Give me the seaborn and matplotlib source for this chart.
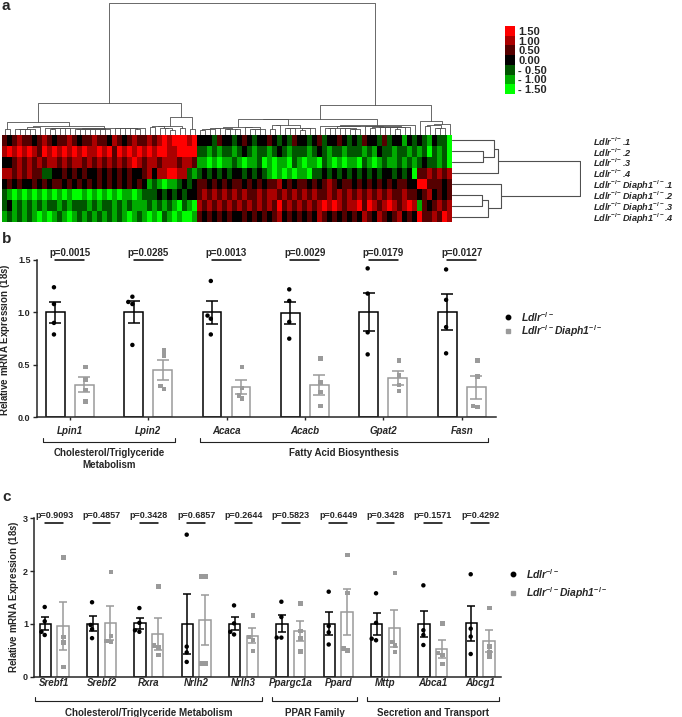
import numpy as np
import pandas as pd
import matplotlib
matplotlib.use("Agg")
import matplotlib.pyplot as plt
from matplotlib.colors import LinearSegmentedColormap
from matplotlib.lines import Line2D
from matplotlib.transforms import blended_transform_factory
import seaborn as sns

# ---------------- panel a: clustered heatmap ----------------
HM_ROWS = ["Ldlr$^{-/-}$.1", "Ldlr$^{-/-}$.2", "Ldlr$^{-/-}$.3", "Ldlr$^{-/-}$.4",
           "Ldlr$^{-/-}$Diaph1$^{-/-}$.1", "Ldlr$^{-/-}$Diaph1$^{-/-}$.2",
           "Ldlr$^{-/-}$Diaph1$^{-/-}$.3", "Ldlr$^{-/-}$Diaph1$^{-/-}$.4"]
# one digit per gene column: 0 = -1.5, 3 = 0.0, 6 = +1.5
HM_CODES = [
    "4345443454 3445434454 4354345445 4565666563 3324332343 2334323243 3234233432 3243324233 1323213220",
    "5656565465 6565656556 5646565656 5665566662 2121221232 1221232122 2123212212 2212132212 2121202120",
    "3345454545 5454554545 4545456545 5455545541 1010112101 1201011021 0110210101 1021012112 1212322120",
    "5545454422 3343434334 3434343345 3556655212 3232323323 2321010101 1022323232 3232323323 2304454545",
    "3434334343 4434343434 3434343431 2101123234 4343434434 3434453434 4343454344 3434343434 4336644434",
    "2101010101 0101001010 1010110122 2323232334 5454545454 4545545454 5454454545 4545454544 5443453434",
    "2312121212 2121222121 2212121112 1212102105 4545454545 4545464545 4545656545 5646545654 5651434545",
    "1212121010 1210121212 1212101210 1021010014 3434343343 4343453434 3435434343 4354354345 3436445465",
]
LEGEND_VALUES = [1.5, 1.0, 0.5, 0.0, -0.5, -1.0, -1.5]
LEGEND_LABELS = ["1.50", "1.00", "0.50", "0.00", "- 0.50", "- 1.00", "- 1.50"]

# ---------------- panels b and c: qPCR ----------------
GENO = ["Ldlr-/-", "Ldlr-/-Diaph1-/-"]
GENO_LABELS = ["Ldlr$^{-/-}$", "Ldlr$^{-/-}$Diaph1$^{-/-}$"]
Y_LABEL = r"$\mathbf{Relative\ mRNA\ Expression\ (}\mathit{18s}\mathbf{)}$"

B_GENES = ["Lpin1", "Lpin2", "Acaca", "Acacb", "Gpat2", "Fasn"]
B_CTRL = [[1.24, 1.08, 0.90, 0.79], [1.15, 1.10, 1.08, 0.69], [1.30, 0.97, 0.94, 0.79],
          [1.22, 1.11, 0.91, 0.75], [1.42, 1.18, 0.81, 0.60], [1.41, 1.12, 0.86, 0.61]]
B_KO = [[0.48, 0.36, 0.26, 0.15], [0.635, 0.59, 0.30, 0.27], [0.48, 0.28, 0.21, 0.18],
        [0.56, 0.33, 0.24, 0.11], [0.54, 0.40, 0.31, 0.25], [0.54, 0.39, 0.11, 0.10]]
B_P = ["p=0.0015", "p=0.0285", "p=0.0013", "p=0.0029", "p=0.0179", "p=0.0127"]
B_GROUPS = [("Cholesterol/Triglyceride\nMetabolism", 0, 1), ("Fatty Acid Biosynthesis", 2, 5)]

C_GENES = ["Srebf1", "Srebf2", "Rxra", "Nrlh2", "Nrlh3", "Ppargc1a", "Ppard", "Mttp", "Abca1", "Abcg1"]
C_CTRL = [[1.32, 1.05, 0.85, 0.79], [1.41, 0.98, 0.90, 0.73], [1.30, 1.02, 0.88, 0.85],
          [2.69, 0.57, 0.46, 0.28], [1.35, 1.01, 0.85, 0.80], [1.42, 1.13, 0.74, 0.74],
          [1.61, 0.96, 0.84, 0.61], [1.58, 1.02, 0.69, 0.72], [1.73, 0.88, 0.79, 0.60],
          [1.94, 0.91, 0.76, 0.43]]
C_KO = [[2.26, 0.75, 0.65, 0.18], [1.98, 0.77, 0.68, 0.66], [1.71, 0.59, 0.55, 0.41],
        [1.90, 1.90, 0.25, 0.25], [1.16, 0.75, 0.70, 0.49], [1.39, 0.87, 0.72, 0.48],
        [2.30, 1.59, 0.53, 0.50], [1.96, 0.66, 0.59, 0.47], [1.01, 0.45, 0.41, 0.24],
        [1.30, 0.57, 0.46, 0.37]]
C_P = ["p=0.9093", "p=0.4857", "p=0.3428", "p=0.6857", "p=0.2644",
       "p=0.5823", "p=0.6449", "p=0.3428", "p=0.1571", "p=0.4292"]
C_GROUPS = [("Cholesterol/Triglyceride Metabolism", 0, 4), ("PPAR Family", 5, 6),
            ("Secretion and Transport", 7, 9)]

COLORS = ["black", "#9a9a9a"]
MARKERS = ["o", "s"]
W, H = 682, 717

sns.set_style("ticks")
plt.rcParams["font.family"] = ["Liberation Sans", "DejaVu Sans"]
plt.rcParams["font.weight"] = "bold"
plt.rcParams["mathtext.fontset"] = "custom"
plt.rcParams["mathtext.rm"] = "Liberation Sans:bold"
plt.rcParams["mathtext.bf"] = "Liberation Sans:bold"
plt.rcParams["mathtext.it"] = "Liberation Sans:italic:bold"
plt.rcParams["mathtext.default"] = "it"


def px_axes(fig, x0, y0, x1, y1):
    return fig.add_axes([x0 / W, 1 - y1 / H, (x1 - x0) / W, (y1 - y0) / H])


def adjacent_ward(vectors):
    # ward merging between neighbours only, so the leaf order stays as drawn
    nodes = [{"c": v.astype(float), "n": 1, "h": 0.0, "pos": i + 0.5} for i, v in enumerate(vectors)]
    links = []
    while len(nodes) > 1:
        costs = [a["n"] * b["n"] / (a["n"] + b["n"]) * np.sum((a["c"] - b["c"]) ** 2)
                 for a, b in zip(nodes[:-1], nodes[1:])]
        k = int(np.argmin(costs))
        a, b = nodes[k], nodes[k + 1]
        h = max(np.sqrt(2 * costs[k]), a["h"], b["h"])
        links.append((a["pos"], a["h"], b["pos"], b["h"], h))
        n = a["n"] + b["n"]
        nodes[k:k + 2] = [{"c": (a["c"] * a["n"] + b["c"] * b["n"]) / n, "n": n, "h": h,
                           "pos": (a["pos"] + b["pos"]) / 2}]
    return links, nodes[0]["h"]


def expr_frame(genes, ctrl, ko):
    rows = []
    for g, a, b in zip(genes, ctrl, ko):
        rows += [(g, GENO[0], v) for v in a]
        rows += [(g, GENO[1], v) for v in b]
    return pd.DataFrame(rows, columns=["gene", "genotype", "expr"])


def bar_panel(ax, genes, ctrl, ko, pvals, groups, ymax, yticks, yfmt, p_y, p_size, cap,
              pad, tick_len, tick_pad, bracket_y, rise, text_y):
    df = expr_frame(genes, ctrl, ko)
    n = len(genes)
    sns.barplot(data=df, x="gene", y="expr", hue="genotype", order=genes, hue_order=GENO,
                palette={g: "white" for g in GENO}, edgecolor="black", linewidth=1.1,
                width=0.74, gap=0.35, errorbar=None, legend=False, ax=ax, zorder=1)
    for p in ax.patches:
        cx = p.get_x() + p.get_width() / 2
        p.set_edgecolor(COLORS[0] if cx < round(cx) else COLORS[1])

    for k, geno in enumerate(GENO):
        sub = df[df["genotype"] == geno]
        col = COLORS[k]
        st = sub.groupby("gene")["expr"].agg(["mean", "sem"]).reindex(genes)
        xpos = np.arange(n) + (k - 0.5) * 0.37
        ax.errorbar(xpos, st["mean"], yerr=st["sem"], fmt="none", ecolor=col,
                    elinewidth=1.1, capsize=cap, capthick=1.1, zorder=3)
        sns.swarmplot(data=sub, x="gene", y="expr", hue="genotype", order=genes, hue_order=GENO,
                      dodge=True, palette={g: col for g in GENO}, marker=MARKERS[k], size=3.2,
                      legend=False, ax=ax, zorder=4)

    ax.set_xlim(-0.42, n - 0.56)
    ax.set_ylim(0, ymax)
    ax.set_yticks(yticks)
    ax.set_yticklabels([yfmt.format(t) for t in yticks], fontsize=6.5, fontweight="bold")
    ax.set_xticks(range(n))
    ax.set_xticklabels(genes, fontsize=7, fontweight="bold", fontstyle="italic")
    ax.tick_params(axis="x", length=tick_len, pad=tick_pad, width=1.0)
    ax.tick_params(axis="y", length=3, pad=1.5, width=1.0)
    ax.set_xlabel("")
    ax.set_ylabel("")
    sns.despine(ax=ax)
    for s in ["left", "bottom"]:
        ax.spines[s].set_linewidth(1.1)

    for i, p in enumerate(pvals):
        ax.plot([i - 0.185, i + 0.185], [p_y, p_y], color="black", lw=1.1, clip_on=False)
        ax.annotate(p, (i, p_y), xytext=(0, 1.6), textcoords="offset points", ha="center",
                    va="bottom", fontsize=p_size, fontweight="bold", annotation_clip=False)

    trans = blended_transform_factory(ax.transData, ax.transAxes)
    for label, i0, i1 in groups:
        x0, x1 = i0 - pad, i1 + pad
        ax.plot([x0, x0, x1, x1], [bracket_y + rise, bracket_y, bracket_y, bracket_y + rise],
                transform=trans, clip_on=False, color="#222222", lw=0.8)
        ax.text((x0 + x1) / 2, text_y, label, transform=trans, ha="center", va="top",
                fontsize=7, fontweight="bold")


def legend_keys(fig, x, y0, dy, tx):
    for k in range(2):
        y = y0 + k * dy
        fig.add_artist(Line2D([x / W], [1 - y / H], transform=fig.transFigure, marker=MARKERS[k],
                              color=COLORS[k], ms=3.2, ls=""))
        fig.text(tx / W, 1 - y / H, GENO_LABELS[k], ha="left", va="center", fontsize=7.5,
                 fontweight="bold", fontstyle="italic")


fig = plt.figure(figsize=(W / 100, H / 100), dpi=100)

# ---------------- a ----------------
hm = np.array([[(int(ch) - 3) * 0.5 for ch in row.replace(" ", "")] for row in HM_CODES])
n_rows, n_cols = hm.shape
cmap = LinearSegmentedColormap.from_list("grk", ["#00ff00", "#000000", "#ff0000"])

ax_hm = px_axes(fig, 2, 135, 452, 222)
sns.heatmap(hm, cmap=cmap, vmin=-1.5, vmax=1.5, cbar=False, xticklabels=False,
            yticklabels=False, ax=ax_hm)

ax_cd = px_axes(fig, 2, 2, 452, 135)
links, top = adjacent_ward(hm.T)
for xa, ha, xb, hb, h in links:
    ax_cd.plot([xa, xa, xb, xb], [ha, h, h, hb], color="#505050", lw=0.6)
ax_cd.set_xlim(0, n_cols)
ax_cd.set_ylim(0, top * 1.006)
ax_cd.axis("off")

ax_rd = px_axes(fig, 452, 135, 581, 222)
links, top = adjacent_ward(hm)
for ya, ha, yb, hb, h in links:
    ax_rd.plot([ha, h, h, hb], [ya, ya, yb, yb], color="#505050", lw=0.8)
ax_rd.set_xlim(0, top * 1.006)
ax_rd.set_ylim(n_rows, 0)
ax_rd.set_xticks([])
ax_rd.set_yticks(np.arange(n_rows) + 0.5)
ax_rd.set_yticklabels(HM_ROWS, fontsize=6.6, fontweight="bold", fontstyle="italic")
ax_rd.yaxis.tick_right()
ax_rd.tick_params(axis="y", length=0, pad=8.5)
for s in ax_rd.spines.values():
    s.set_visible(False)

ax_lg = px_axes(fig, 505, 26, 515, 94)
sns.heatmap(np.array(LEGEND_VALUES).reshape(-1, 1), cmap=cmap, vmin=-1.5, vmax=1.5, cbar=False,
            xticklabels=False, yticklabels=LEGEND_LABELS, ax=ax_lg)
ax_lg.yaxis.tick_right()
ax_lg.tick_params(axis="y", length=0, pad=2.5, labelrotation=0)
for t in ax_lg.get_yticklabels():
    t.set_fontsize(8)
    t.set_fontweight("bold")

# ---------------- b ----------------
ax_b = px_axes(fig, 36.7, 260, 496.3, 417.3)
bar_panel(ax_b, B_GENES, B_CTRL, B_KO, B_P, B_GROUPS, 1.5, [0, 0.5, 1.0, 1.5], "{:.1f}",
          1.5, 7, 4.3, 0.34, 2.5, 3.5, -0.155, 0.025, -0.196)
fig.text(5.5 / W, 1 - 340 / H, Y_LABEL, rotation=90, ha="center", va="center", fontsize=7)
legend_keys(fig, 507.7, 316.7, 14, 521)

# ---------------- c ----------------
ax_c = px_axes(fig, 34.3, 518.3, 501, 676.7)
bar_panel(ax_c, C_GENES, C_CTRL, C_KO, C_P, C_GROUPS, 3, [0, 1, 2, 3], "{:d}",
          2.92, 6.5, 3.0, 0.4, 0, 0.8, -0.153, 0.023, -0.198)
fig.text(14 / W, 1 - 597 / H, Y_LABEL, rotation=90, ha="center", va="center", fontsize=7)
legend_keys(fig, 512.7, 574.3, 18.4, 526)

for letter, y in [("a", 6), ("b", 239), ("c", 497)]:
    fig.text(2 / W, 1 - y / H, letter, ha="left", va="center", fontsize=11, fontweight="bold")

fig.savefig("out.png", dpi=100)
